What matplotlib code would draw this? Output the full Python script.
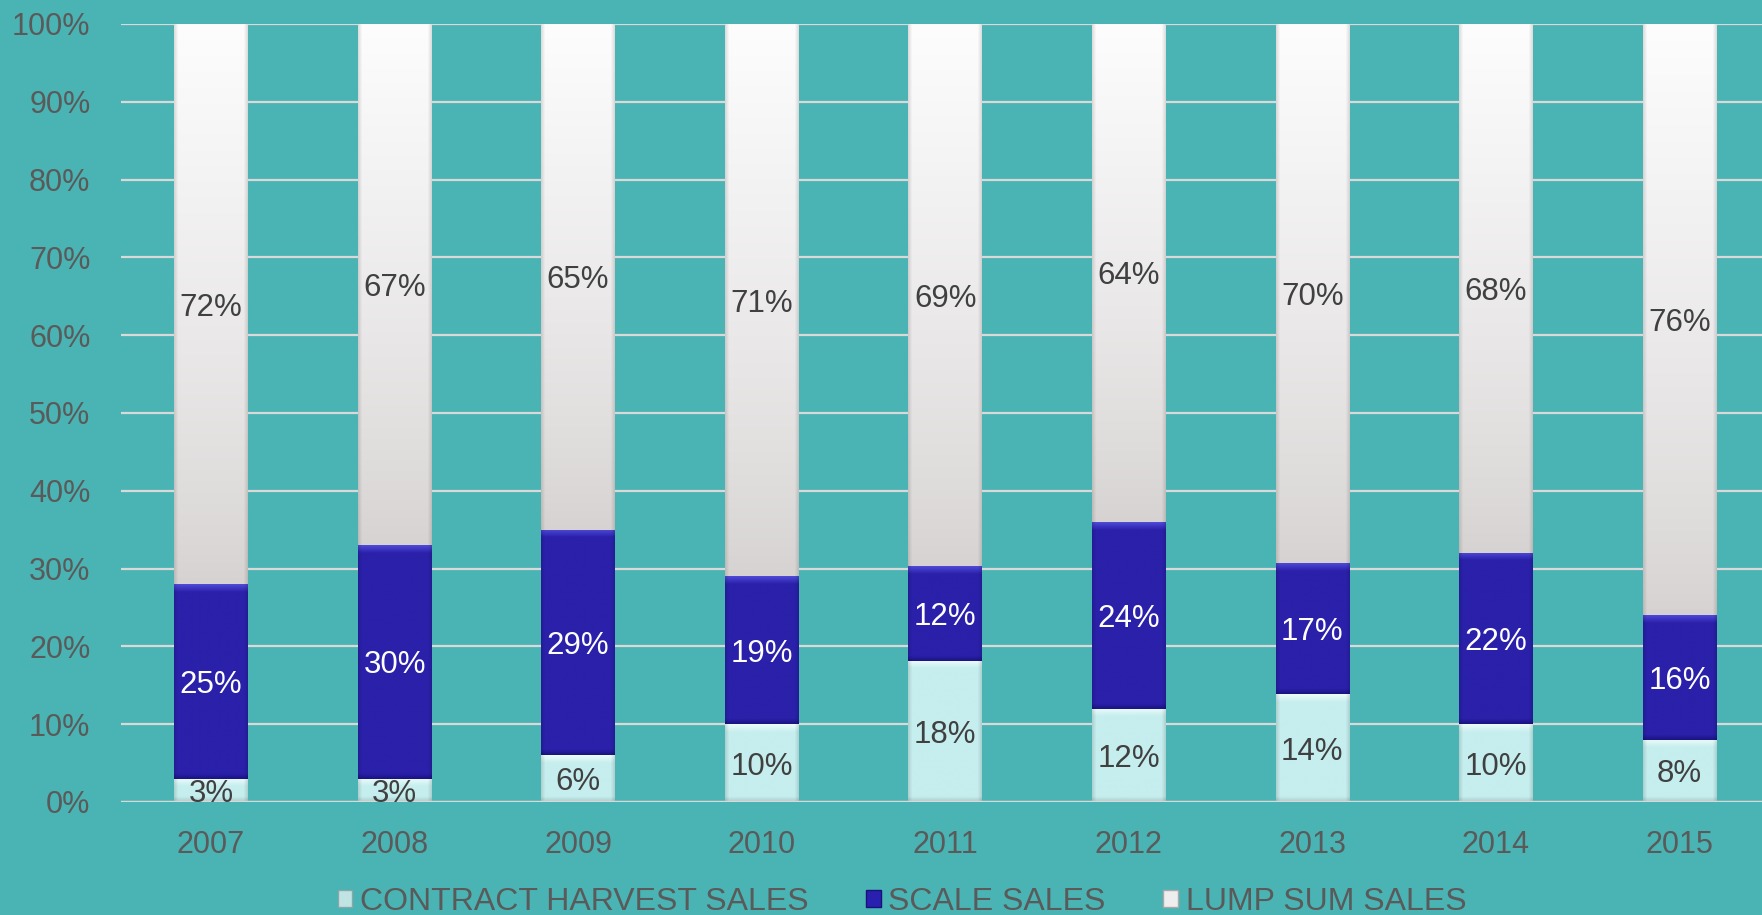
import numpy as np
import matplotlib
matplotlib.use("Agg")
import matplotlib.pyplot as plt
from matplotlib.patches import Patch
from matplotlib.colors import to_rgb

years = ["2007", "2008", "2009", "2010", "2011", "2012", "2013", "2014", "2015"]
contract = [3, 3, 6, 10, 18, 12, 14, 10, 8]
scale = [25, 30, 29, 19, 12, 24, 17, 22, 16]
lump = [72, 67, 65, 71, 69, 64, 70, 68, 76]
series_names = ["CONTRACT HARVEST SALES", "SCALE SALES", "LUMP SUM SALES"]
yticks = [0, 10, 20, 30, 40, 50, 60, 70, 80, 90, 100]

plt.rcParams['font.family'] = ['Liberation Sans', 'DejaVu Sans']

BG = "#4ab3b3"
GRID = "#d9d9d9"
TXT = "#5a5a5a"

fig = plt.figure(figsize=(17.62, 9.15), dpi=100, facecolor=BG)
ax = fig.add_axes([0.0687, 0.1235, 0.9313, 0.8503])
ax.set_facecolor(BG)

x = np.arange(len(years))
c = np.array(contract, float)
s = np.array(scale, float)
l = np.array(lump, float)
tot = c + s + l
cp, sp, lp = c / tot * 100, s / tot * 100, l / tot * 100
width = 0.40

def grad_img(kind, h, nx=60, ny=400):
    yy = np.linspace(1, 0, ny)  # 1 top, 0 bottom (fraction of segment)
    xx = np.linspace(0, 1, nx)
    if kind == "lump":
        top = np.array(to_rgb("#fdfdfd")); bot = np.array(to_rgb("#d6d2d2"))
        t = yy ** 0.8
        img = bot + (top - bot) * t[:, None]
        img = np.broadcast_to(img[:, None, :], (ny, nx, 3)).copy()
    else:
        if kind == "scale":
            base = np.array(to_rgb("#2a20aa")); hi = np.array(to_rgb("#4f4ad8")); lo = np.array(to_rgb("#1a1482"))
        else:
            base = np.array(to_rgb("#c6eeee")); hi = np.array(to_rgb("#eefcfc")); lo = np.array(to_rgb("#aacaca"))
        band = 1.0 / max(h, 0.1)
        dtop = (1 - yy) / band
        dbot = yy / (band * 0.7)
        wt = np.clip(1 - dtop, 0, 1)[:, None]
        wb = np.clip(1 - dbot, 0, 1)[:, None]
        img = base + (hi - base) * wt
        img = img + (lo - img) * wb
        img = np.broadcast_to(img[:, None, :], (ny, nx, 3)).copy()
    edge = np.minimum(xx, 1 - xx)
    fac = np.where(edge < 0.05, 0.88 + 0.12 * edge / 0.05, 1.0)
    img = img * fac[None, :, None]
    return np.clip(img, 0, 1)

for yv in yticks[1:]:
    ax.axhline(yv, color=GRID, lw=1.6, zorder=1)

bottoms = np.zeros(len(years))
segs = [(cp, contract, "contract", "#404040"), (sp, scale, "scale", "white"), (lp, lump, "lump", "#404040")]
for vals, labels, kind, tcol in segs:
    for i in range(len(years)):
        y0 = bottoms[i]; h = vals[i]
        ax.bar(x[i], h, width, bottom=y0, color="none", zorder=2)
        ax.imshow(grad_img(kind, h), extent=(x[i] - width / 2, x[i] + width / 2, y0, y0 + h),
                  aspect="auto", zorder=2, interpolation="bilinear")
        ax.text(x[i], y0 + h / 2, f"{labels[i]}%", ha="center", va="center_baseline",
                fontsize=22.5, color=tcol, zorder=5)
    bottoms = bottoms + vals

ax.axhline(0, color=GRID, lw=2.5, zorder=4)

ax.set_xlim(-0.49, len(years) - 1 + 0.45)
ax.set_ylim(0, 100)
ax.set_yticks(yticks)
ax.set_yticklabels([f"{v}%" for v in yticks], fontsize=22, color=TXT)
ax.set_xticks(x)
ax.set_xticklabels(years, fontsize=22, color=TXT)
ax.tick_params(axis="y", length=0, pad=22)
ax.tick_params(axis="x", length=0, pad=20)
for sp_ in ax.spines.values():
    sp_.set_visible(False)

handles = [Patch(facecolor="#c0e4e4", edgecolor="#8aa8a8"),
           Patch(facecolor="#2a20b0", edgecolor="#17117a"),
           Patch(facecolor="#eeeeee", edgecolor="#aaaaaa")]
fig.legend(handles, series_names, loc="center", bbox_to_anchor=(902 / 1762, 1 - 902 / 915),
           ncol=3, frameon=False, fontsize=23, labelcolor=TXT, handlelength=0.45,
           handleheight=0.45, handletextpad=0.25, columnspacing=1.8, borderpad=0, borderaxespad=0)

fig.savefig("out.png", dpi=100, facecolor=BG)
